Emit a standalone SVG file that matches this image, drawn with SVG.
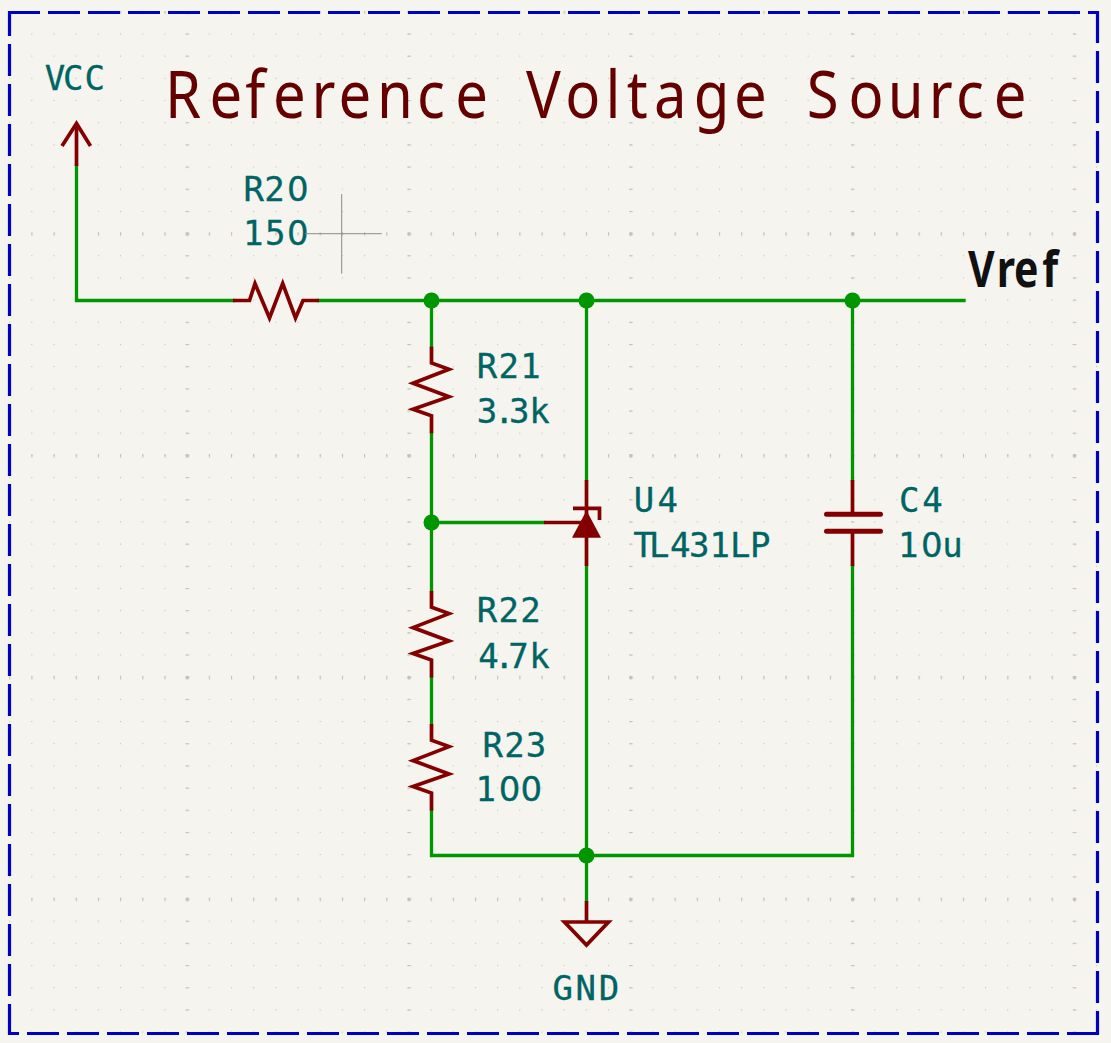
<svg xmlns="http://www.w3.org/2000/svg" width="1111" height="1043" viewBox="0 0 1111 1043">
<style>
.wire{fill:none;stroke:#009600;stroke-width:3.3;stroke-linecap:square;stroke-linejoin:miter}
.sym{fill:none;stroke:#840000;stroke-width:3.7;stroke-linejoin:miter;stroke-linecap:butt}
.jn{fill:#009600}
.lbl{font-family:"DejaVu Sans Mono",monospace;font-size:34px;fill:#006464;stroke:#006464;stroke-width:.3}
.z{font-family:"DejaVu Sans",sans-serif}
.frame{fill:none;stroke:#0000c2;stroke-width:3.2;stroke-dasharray:32 8}
.g{fill:#c2c2be}
</style>
<defs>
<pattern id="dots" patternUnits="userSpaceOnUse" x="31.3" y="33.4" width="22.18" height="22.18"><rect class="g" width="1.1" height="1.1"/></pattern>
<pattern id="cols" patternUnits="userSpaceOnUse" x="185.5" y="33.5" width="221.8" height="22.18"><rect class="g" width="3.6" height="1.1"/></pattern>
<pattern id="rows" patternUnits="userSpaceOnUse" x="31.4" y="232.2" width="22.18" height="221.8"><rect class="g" width="1.1" height="3.6"/></pattern>
<pattern id="major" patternUnits="userSpaceOnUse" x="185.7" y="232.4" width="221.8" height="221.8"><rect class="g" width="3.2" height="3.2"/></pattern>
<path id="rv" d="M431.5 346.7V363L449 369.3L413 383.3L449 396.7L413 409.3L431.5 415.700V433.3"/>
</defs>
<rect width="1111" height="1043" fill="#f5f4ef"/>
<g id="grid">
<rect x="8" y="11" width="1091" height="1024" fill="url(#dots)"/>
<rect x="8" y="11" width="1091" height="1024" fill="url(#cols)"/>
<rect x="8" y="11" width="1091" height="1024" fill="url(#rows)"/>
<rect x="8" y="11" width="1091" height="1024" fill="url(#major)"/>
</g>
<g id="frame">
<path class="frame" d="M9 12.500H1099" stroke-dashoffset="1"/>
<path class="frame" d="M1097.500 11V1035"/>
<path class="frame" d="M8 1033.500H1099" stroke-dashoffset="21"/>
<path class="frame" d="M9.500 11V1035" stroke-dashoffset="7"/>
</g>
<g id="connectors">
<path class="wire" d="M76.500 166V300.500H233"/>
<path class="wire" d="M319 300.500H964"/>
<path class="wire" d="M431.500 300.500V346"/>
<path class="wire" d="M431.500 434V590"/>
<path class="wire" d="M431.500 678V723"/>
<path class="wire" d="M431.500 811V855.500H852.500V566"/>
<path class="wire" d="M852.500 480V300.500"/>
<path class="wire" d="M586.500 300.500V479"/>
<path class="wire" d="M586.500 567V900"/>
<path class="wire" d="M431.500 522.500H543"/>
<circle class="jn" cx="431.500" cy="300.500" r="8"/>
<circle class="jn" cx="586.500" cy="300.500" r="8"/>
<circle class="jn" cx="852.500" cy="300.500" r="8"/>
<circle class="jn" cx="431.500" cy="522.500" r="8"/>
<circle class="jn" cx="586.500" cy="855.500" r="8"/>
</g>
<g id="title"><text transform="scale(.88 1)" x="187.500 238.200 278.800 310.100 353.900 384.800 428.400 473.800 517.300 560 597.700 642.300 688 712.100 743.300 788.500 834 880 916.800 964.300 1008.800 1055.400 1086.300 1129.400" y="118" font-family="'Noto Sans',sans-serif" font-size="66" fill="#640000">Reference Voltage Source</text></g>
<g id="VCC">
<path class="sym" d="M76.500 166V124"/>
<path class="sym" stroke-linecap="round" d="M62 146L76.500 123.500L90.500 146"/>
<text class="lbl" x="44.700 63 84.600" y="90">VCC</text>
</g>
<g id="R20">
<path class="sym" d="M233 300.500H249.500L255 283.500L269.500 318L282.700 283.500L295.500 318L303 300.500H319"/>
<text class="lbl" x="243.400 264.300" y="201">R2<tspan class="z" x="287.100">0</tspan></text>
<text class="lbl" x="243 265" y="245">15<tspan class="z" x="287.100">0</tspan></text>
<path d="M341.700 194V273.700M305 233.700H381.700" fill="none" stroke="#8c8c8c" stroke-width="1"/>
</g>
<g id="R21">
<use href="#rv" class="sym"/>
<text class="lbl" x="476.700 498.600 520.300" y="378.300">R21</text>
<text class="lbl" x="476.700 493.900 509.100 529.300" y="423.300">3.3k</text>
</g>
<g id="R22">
<use href="#rv" class="sym" y="244.300"/>
<text class="lbl" x="476.700 498.600 520.300" y="622.300">R22</text>
<text class="lbl" x="478.300 493.900 508.200 529.300" y="667.700">4.7k</text>
</g>
<g id="R23">
<use href="#rv" class="sym" y="377.300"/>
<text class="lbl" x="482.400 504.300 525.700" y="756.700">R23</text>
<text class="lbl" x="475.600" y="800.700">1<tspan class="z" x="498.800 520.500">00</tspan></text>
</g>
<g id="U4">
<path class="sym" d="M586.500 480V566M544 522.500H587"/>
<path class="sym" stroke-linecap="round" d="M573 508.300H599.500V520"/>
<path d="M586.500 510.500L601 537.700H572Z" fill="#840000"/>
<text class="lbl" x="633.700 657.600" y="511.700">U4</text>
<text class="lbl" x="633.300 649 670 689.100 709.600 730 749.900" y="556.700">TL431LP</text>
</g>
<g id="C4">
<path class="sym" d="M852.500 480V514M852.500 531V566"/>
<path d="M826.500 514.300H880.500M826.500 531.300H880.500" fill="none" stroke="#840000" stroke-width="5" stroke-linecap="round"/>
<text class="lbl" x="899 922.300" y="511.700">C4</text>
<text class="lbl" x="898" y="556.700">1<tspan class="z" x="921.100">0</tspan><tspan x="942.300">u</tspan></text>
</g>
<g id="GND">
<path class="sym" d="M586.500 901V922"/>
<path class="sym" stroke-linejoin="round" d="M564.500 922H608.500L586.500 945Z"/>
<text class="lbl" x="552.600 575.600 598.700" y="1000">GND</text>
</g>
<g id="Vref"><text transform="translate(968 287.300) scale(.82 1)" x="0 35 56 90.500" y="0" font-family="'Noto Sans',sans-serif" font-weight="700" font-size="50" fill="#111111">Vref</text></g>
</svg>
